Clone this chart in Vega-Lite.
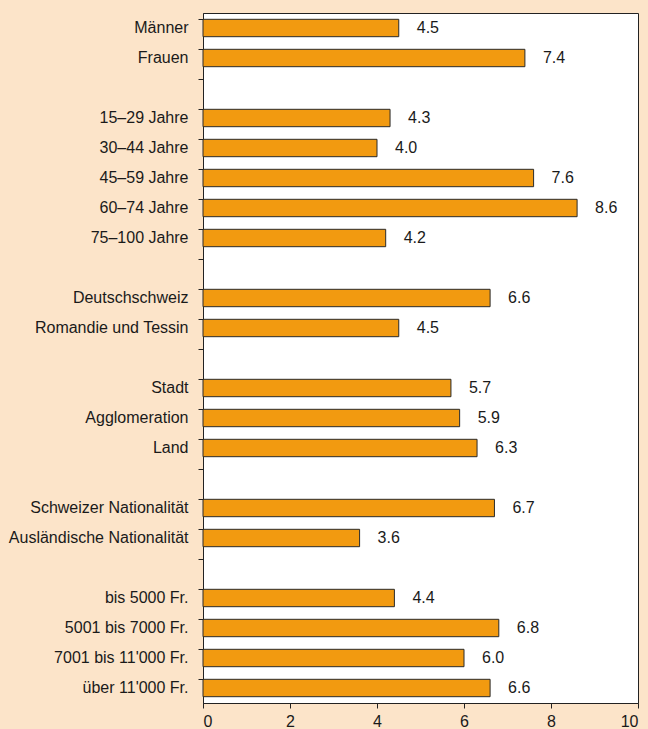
{
  "$schema": "https://vega.github.io/schema/vega-lite/v6.json",
  "autosize": {"type": "none"},
  "width": 435,
  "height": 690,
  "padding": {"left": 203, "top": 13, "right": 10, "bottom": 26},
  "background": "#FCE4C9",
  "config": {
    "view": {"stroke": "#222222", "strokeWidth": 1, "fill": "#FFFFFF"},
    "font": "Liberation Sans"
  },
  "data": {
    "values": [
      {"cat": "Männer", "v": 4.5},
      {"cat": "Frauen", "v": 7.4},
      {"cat": "15–29 Jahre", "v": 4.3},
      {"cat": "30–44 Jahre", "v": 4.0},
      {"cat": "45–59 Jahre", "v": 7.6},
      {"cat": "60–74 Jahre", "v": 8.6},
      {"cat": "75–100 Jahre", "v": 4.2},
      {"cat": "Deutschschweiz", "v": 6.6},
      {"cat": "Romandie und Tessin", "v": 4.5},
      {"cat": "Stadt", "v": 5.7},
      {"cat": "Agglomeration", "v": 5.9},
      {"cat": "Land", "v": 6.3},
      {"cat": "Schweizer Nationalität", "v": 6.7},
      {"cat": "Ausländische Nationalität", "v": 3.6},
      {"cat": "bis 5000 Fr.", "v": 4.4},
      {"cat": "5001 bis 7000 Fr.", "v": 6.8},
      {"cat": "7001 bis 11'000 Fr.", "v": 6.0},
      {"cat": "über 11'000 Fr.", "v": 6.6}
    ]
  },
  "encoding": {
    "y": {
      "field": "cat",
      "type": "nominal",
      "title": null,
      "scale": {
        "domain": ["Männer", "Frauen", " ", "15–29 Jahre", "30–44 Jahre", "45–59 Jahre", "60–74 Jahre", "75–100 Jahre", "  ", "Deutschschweiz", "Romandie und Tessin", "   ", "Stadt", "Agglomeration", "Land", "    ", "Schweizer Nationalität", "Ausländische Nationalität", "     ", "bis 5000 Fr.", "5001 bis 7000 Fr.", "7001 bis 11'000 Fr.", "über 11'000 Fr."],
        "paddingInner": 0.42,
        "paddingOuter": 0.21
      },
      "axis": {
        "bandPosition": 0,
        "labelFontSize": 16,
        "labelColor": "#1a1a1a",
        "labelPadding": 10,
        "tickColor": "#222222",
        "tickSize": 5,
        "domainColor": "#222222",
        "labelBound": false
      }
    },
    "x": {
      "field": "v",
      "type": "quantitative",
      "title": null,
      "scale": {"domain": [0, 10], "nice": false},
      "axis": {
        "values": [0, 2, 4, 6, 8, 10],
        "grid": false,
        "labelFontSize": 16,
        "labelColor": "#1a1a1a",
        "tickColor": "#222222",
        "domainColor": "#222222",
        "tickSize": 5,
        "labelPadding": 5
      }
    }
  },
  "layer": [
    {
      "mark": {"type": "bar", "color": "#F29A10", "stroke": "#2a2a2a", "strokeWidth": 1}
    },
    {
      "mark": {"type": "text", "align": "left", "dx": 18, "fontSize": 16, "color": "#1a1a1a"},
      "encoding": {
        "text": {"field": "v", "type": "quantitative", "format": ".1f"}
      }
    }
  ]
}
